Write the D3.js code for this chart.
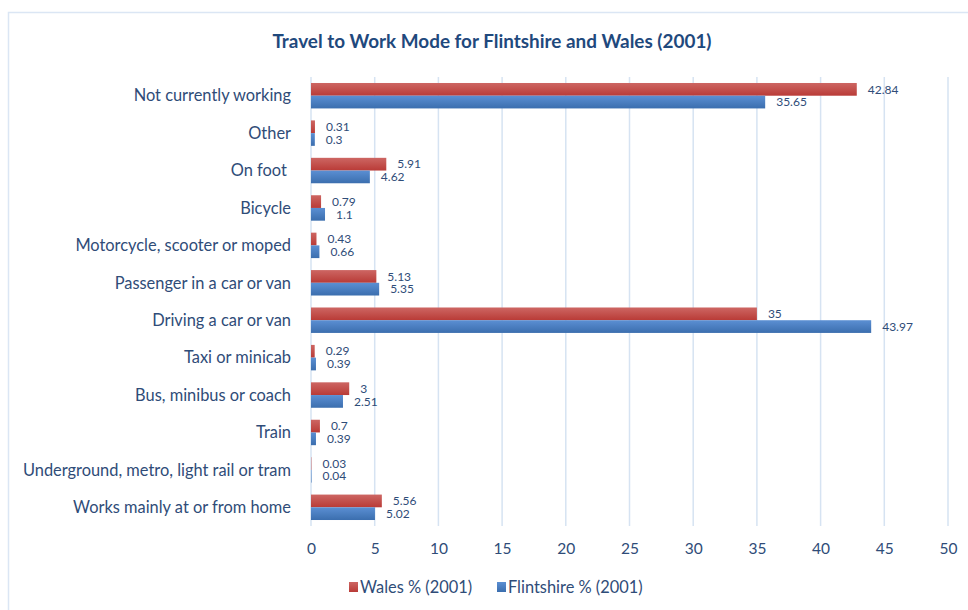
<!DOCTYPE html>
<html>
<head>
<meta charset="utf-8">
<script src="https://cdn.jsdelivr.net/npm/d3@7"></script>
<style>
  body { margin: 0; background: #fff; }
  svg text { font-family: Lato, "Open Sans", sans-serif; white-space: pre; }
</style>
</head>
<body>
<div id="chart"></div>
<script>
// data
const categories = [
    "Not currently working",
    "Other",
    "On foot ",
    "Bicycle",
    "Motorcycle, scooter or moped",
    "Passenger in a car or van",
    "Driving a car or van",
    "Taxi or minicab",
    "Bus, minibus or coach",
    "Train",
    "Underground, metro, light rail or tram",
    "Works mainly at or from home"
];
const walesValues = [42.84, 0.31, 5.91, 0.79, 0.43, 5.13, 35, 0.29, 3, 0.7, 0.03, 5.56];
const flintValues = [35.65, 0.3, 4.62, 1.1, 0.66, 5.35, 43.97, 0.39, 2.51, 0.39, 0.04, 5.02];
const xTicks = [0, 5, 10, 15, 20, 25, 30, 35, 40, 45, 50];
const seriesNames = ["Wales % (2001)", "Flintshire % (2001)"];

const W = 968, H = 610;
const margin = {top: 77, right: 20, bottom: 84, left: 311};

const svg = d3.select("#chart").append("svg")
    .attr("width", W)
    .attr("height", H);

const colors = {
    red: "#c0504d",
    blue: "#4f81bd",
    grid: "#d6e3f2",
    title: "#1f497d",
    text: "#2f4c78"
};

// gradients like the office-style bars
const defs = svg.append("defs");
function addGrad(id, top, bottom) {
    let g = defs.append("linearGradient").attr("id", id)
        .attr("x1", 0).attr("y1", 0).attr("x2", 0).attr("y2", 1);
    g.append("stop").attr("offset", "0%").attr("stop-color", top);
    g.append("stop").attr("offset", "100%").attr("stop-color", bottom);
}
addGrad("gradRed", "#cd6663", "#b93b37");
addGrad("gradBlue", "#5b8fd3", "#3b6eae");

// outer frame (runs off the page on right/bottom)
svg.append("rect")
    .attr("x", 8.5).attr("y", 12.5)
    .attr("width", W + 20).attr("height", H + 20)
    .attr("fill", "none")
    .attr("stroke", "#dbe6f4")
    .attr("stroke-width", 1.5);

// title
svg.append("text")
    .attr("x", 492)
    .attr("y", 48)
    .attr("text-anchor", "middle")
    .attr("font-size", "18.9px")
    .attr("font-weight", "bold")
    .attr("fill", colors.title)
    .text("Travel to Work Mode for Flintshire and Wales (2001)");

const x = d3.scaleLinear()
    .domain([0, 50])
    .range([margin.left, 948]);

const y = d3.scaleBand()
    .domain(categories)
    .range([margin.top, H - margin.bottom])
    .padding(0);

const barH = y.bandwidth() * 0.34;

// gridlines
svg.append("g")
    .selectAll("line")
    .data(xTicks)
    .enter()
    .append("line")
    .attr("x1", d => x(d)).attr("x2", d => x(d))
    .attr("y1", y.range()[0]).attr("y2", y.range()[1])
    .attr("stroke", colors.grid)
    .attr("stroke-width", 1.5);

// x axis tick labels
const xAxis = d3.axisBottom(x).tickValues(xTicks).tickSize(0).tickPadding(0);
const xg = svg.append("g")
    .attr("class", "x-axis")
    .attr("transform", "translate(0," + 543 + ")")
    .call(xAxis);
xg.select(".domain").remove();
xg.selectAll("text")
    .attr("font-size", "15.5px")
    .attr("fill", colors.text)
    .attr("dy", "0.71em")
    .attr("font-family", "Lato, sans-serif");

// category labels
svg.append("g")
    .selectAll("text")
    .data(categories)
    .enter()
    .append("text")
    .attr("x", 291)
    .attr("y", d => y(d) + y.bandwidth() / 2)
    .attr("dy", "0.35em")
    .attr("text-anchor", "end")
    .attr("font-size", "16.4px")
    .attr("fill", colors.text)
    .text(d => d);

const rows = categories.map((c, i) => ({cat: c, wales: walesValues[i], flint: flintValues[i]}));
const mid = d => y(d.cat) + y.bandwidth() / 2;

// bars
svg.append("g").selectAll("rect")
    .data(rows).enter().append("rect")
    .attr("x", x(0))
    .attr("y", d => mid(d) - barH)
    .attr("width", d => x(d.wales) - x(0))
    .attr("height", barH)
    .attr("fill", "url(#gradRed)");

svg.append("g").selectAll("rect")
    .data(rows).enter().append("rect")
    .attr("x", x(0))
    .attr("y", d => mid(d))
    .attr("width", d => x(d.flint) - x(0))
    .attr("height", barH)
    .attr("fill", "url(#gradBlue)");

// value labels
svg.append("g").selectAll("text")
    .data(rows).enter().append("text")
    .attr("x", d => x(d.wales) + 11)
    .attr("y", d => mid(d) - barH / 2)
    .attr("dy", "0.35em")
    .attr("font-size", "12px")
    .attr("fill", colors.text)
    .text(d => d.wales);

svg.append("g").selectAll("text")
    .data(rows).enter().append("text")
    .attr("x", d => x(d.flint) + 11)
    .attr("y", d => mid(d) + barH / 2)
    .attr("dy", "0.35em")
    .attr("font-size", "12px")
    .attr("fill", colors.text)
    .text(d => d.flint);

// legend
const legend = svg.append("g").attr("transform", "translate(349,587)");
const legendX = [0, 148];
const legendFill = ["url(#gradRed)", "url(#gradBlue)"];
seriesNames.forEach((name, i) => {
    legend.append("rect")
        .attr("x", legendX[i]).attr("y", -5)
        .attr("width", 9).attr("height", 10)
        .attr("fill", legendFill[i]);
    legend.append("text")
        .attr("x", legendX[i] + 11)
        .attr("y", 0)
        .attr("dy", "0.35em")
        .attr("font-size", "16.4px")
        .attr("fill", colors.text)
        .text(name);
});
</script>
</body>
</html>
